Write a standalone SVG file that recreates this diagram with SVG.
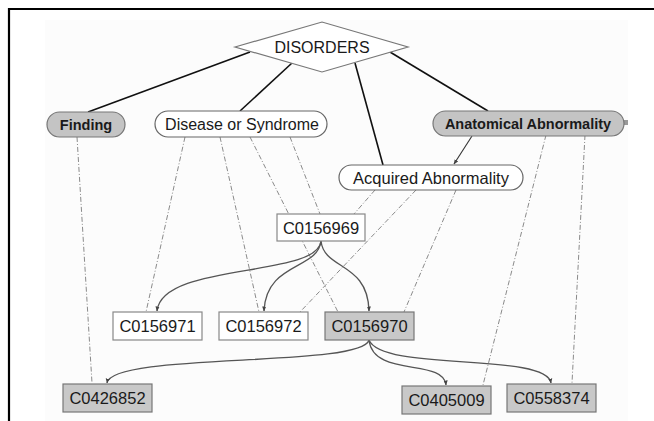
<svg xmlns="http://www.w3.org/2000/svg" width="654" height="421" viewBox="0 0 654 421">
<defs>
<marker id="ah" viewBox="0 0 10 10" refX="9" refY="5" markerWidth="5" markerHeight="5" orient="auto" markerUnits="userSpaceOnUse">
<path d="M0,1 L10,5 L0,9 z" fill="#444"/>
</marker>
</defs>
<style>
.t{font-family:"Liberation Sans",Arial,sans-serif;fill:#1a1a1a;text-anchor:middle;dominant-baseline:central}
.code{font-size:16.5px}
.pill{font-size:16px}
.pillb{font-size:14.5px;font-weight:bold}
.wbox{fill:#fff;stroke:#888;stroke-width:1.2}
.gbox{fill:#c8c8c8;stroke:#777;stroke-width:1.2}
.wpill{fill:#fff;stroke:#666;stroke-width:1.2}
.gpill{fill:#c4c4c4;stroke:#777;stroke-width:1.2}
.solid{fill:none;stroke:#111;stroke-width:1.6}
.dd{fill:none;stroke:#8a8a8a;stroke-width:1;stroke-dasharray:5 2 1 2}
.cv{fill:none;stroke:#555;stroke-width:1.3;marker-end:url(#ah)}
</style>
<rect x="0" y="0" width="654" height="421" fill="#fff"/>
<rect x="45" y="20" width="583" height="401" fill="#fcfcfc"/>
<path d="M9,421 V9 H654" fill="none" stroke="#000" stroke-width="2.2"/>
<g id="connectors">
<line class="solid" x1="250" y1="52" x2="88" y2="112"/>
<line class="solid" x1="292" y1="63" x2="240" y2="111"/>
<line class="solid" x1="355" y1="63" x2="383" y2="165"/>
<line class="solid" x1="390" y1="52" x2="488" y2="111"/>
<line x1="472" y1="136" x2="454" y2="164" stroke="#333" stroke-width="1.1" marker-end="url(#ah)"/>
<line class="dd" x1="77" y1="137" x2="92" y2="383"/>
<line class="dd" x1="185" y1="137" x2="146" y2="312"/>
<line class="dd" x1="220" y1="137" x2="259" y2="312"/>
<line class="dd" x1="250" y1="137" x2="338" y2="312"/>
<line class="dd" x1="290" y1="137" x2="320" y2="214"/>
<line class="dd" x1="375" y1="190" x2="354" y2="214"/>
<line class="dd" x1="416" y1="190" x2="300" y2="312"/>
<line class="dd" x1="456" y1="190" x2="404" y2="312"/>
<line class="dd" x1="546" y1="135" x2="483" y2="385"/>
<line class="dd" x1="585" y1="135" x2="572" y2="383"/>
<path class="cv" d="M321,241 C318,278 162,262 157,311"/>
<path class="cv" d="M321,241 C318,270 266,262 264,311"/>
<path class="cv" d="M321,241 C324,270 368,262 369,311"/>
<path class="cv" d="M369,340 C362,368 112,352 107,383"/>
<path class="cv" d="M369,340 C373,378 444,358 446,385"/>
<path class="cv" d="M369,340 C382,372 546,352 551,383"/>
</g>
<g id="disorders">
<polygon points="235,47 322,22 408,47 322,72" fill="#fff" stroke="#777" stroke-width="1.2"/>
<text class="t" x="322" y="47" style="font-size:16px">DISORDERS</text>
</g>
<g id="finding">
<rect class="gpill" x="47" y="112" width="78" height="25" rx="12.5"/>
<text class="t pillb" x="86" y="124.5">Finding</text>
</g>
<g id="disease">
<rect class="wpill" x="155" y="111" width="172" height="26" rx="13"/>
<text class="t pill" x="242" y="124">Disease or Syndrome</text>
</g>
<g id="anatomical">
<rect x="622" y="120" width="6" height="5" fill="#999"/>
<rect class="gpill" x="433" y="111" width="191" height="25" rx="12.5"/>
<text class="t pillb" x="528" y="123.5">Anatomical Abnormality</text>
</g>
<g id="acquired">
<rect class="wpill" x="339" y="165" width="184" height="25" rx="12.5"/>
<text class="t pill" x="431" y="177.5" style="font-size:16.5px">Acquired Abnormality</text>
</g>
<g id="c0156969">
<rect class="wbox" x="277" y="214" width="88" height="27"/>
<text class="t code" x="321" y="227.5">C0156969</text>
</g>
<g id="c0156971">
<rect class="wbox" x="113" y="312" width="89" height="28"/>
<text class="t code" x="157.5" y="326">C0156971</text>
</g>
<g id="c0156972">
<rect class="wbox" x="219" y="312" width="89" height="28"/>
<text class="t code" x="263.5" y="326">C0156972</text>
</g>
<g id="c0156970">
<rect class="gbox" x="325" y="312" width="89" height="28"/>
<text class="t code" x="369.5" y="326">C0156970</text>
</g>
<g id="c0426852">
<rect class="gbox" x="63" y="384" width="89" height="28"/>
<text class="t code" x="107.5" y="398">C0426852</text>
</g>
<g id="c0405009">
<rect class="gbox" x="402" y="386" width="89" height="28"/>
<text class="t code" x="446.5" y="400">C0405009</text>
</g>
<g id="c0558374">
<rect class="gbox" x="507" y="384" width="89" height="28"/>
<text class="t code" x="551.5" y="398">C0558374</text>
</g>
</svg>
